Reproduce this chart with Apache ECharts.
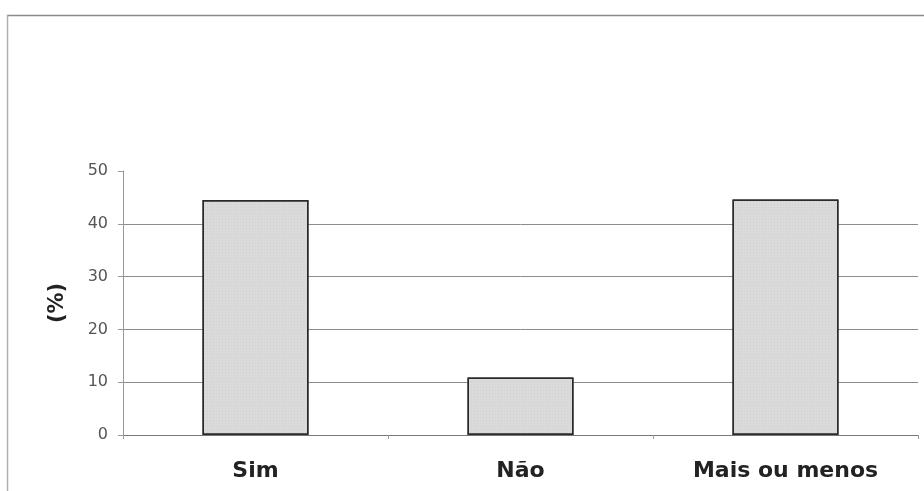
<!DOCTYPE html>
<html>
<head>
<meta charset="utf-8">
<script src="https://cdn.jsdelivr.net/npm/echarts@6/dist/echarts.min.js"></script>
<style>
  html, body { margin: 0; padding: 0; background: #fff; }
  #chart { width: 924px; height: 491px; }
</style>
</head>
<body>
<div id="chart"></div>
<script>
// Response categories and their shares (%)
const categories = ['Sim', 'Não', 'Mais ou menos'];
const percentages = [44.5, 10.9, 44.6];
const yTicks = { min: 0, max: 50, interval: 10 };

const chart = echarts.init(document.getElementById('chart'));

chart.setOption({
  backgroundColor: '#ffffff',
  animation: false,
  grid: { left: 123, right: 6, top: 171, bottom: 56 },
  graphic: [
    // outer frame (top and left edges)
    { type: 'line', shape: { x1: 7, y1: 15.5, x2: 924, y2: 15.5 },
      style: { stroke: '#8a8a8a', lineWidth: 1.5 } },
    { type: 'line', shape: { x1: 7.5, y1: 15, x2: 7.5, y2: 491 },
      style: { stroke: '#b0b0b0', lineWidth: 1.5 } }
  ],
  xAxis: {
    type: 'category',
    data: categories,
    axisLine: { show: true, lineStyle: { color: '#777', width: 1 } },
    axisTick: { show: true, alignWithLabel: false, length: 4, inside: false,
      lineStyle: { color: '#999' } },
    axisLabel: {
      margin: 25,
      color: '#222',
      fontFamily: 'DejaVu Sans, Verdana, sans-serif',
      fontWeight: 'bold',
      fontSize: 22
    }
  },
  yAxis: {
    type: 'value',
    min: yTicks.min,
    max: yTicks.max,
    interval: yTicks.interval,
    name: '(%)',
    nameLocation: 'middle',
    nameGap: 55,
    nameRotate: 90,
    nameTextStyle: {
      color: '#222',
      fontFamily: 'DejaVu Sans, Verdana, sans-serif',
      fontWeight: 'bold',
      fontSize: 21
    },
    axisLine: { show: true, lineStyle: { color: '#999', width: 1 } },
    axisTick: { show: true, length: 5, lineStyle: { color: '#999' } },
    axisLabel: {
      margin: 15,
      color: '#555',
      fontFamily: 'DejaVu Sans, Verdana, sans-serif',
      fontSize: 16
    },
    splitLine: { show: true, showMaxLine: false, lineStyle: { color: '#8c8c8c', width: 1 } }
  },
  series: [{
    type: 'bar',
    data: percentages,
    barWidth: '40%',
    itemStyle: {
      color: '#dadada',
      borderColor: '#2a2a2a',
      borderWidth: 1.5,
      decal: {
        symbol: 'rect',
        symbolSize: 0.5,
        dashArrayX: [1, 2],
        dashArrayY: [1, 2],
        color: 'rgba(110,110,110,0.35)',
        rotation: 0
      }
    }
  }],
  aria: { enabled: true, decal: { show: true } }
});
</script>
</body>
</html>
